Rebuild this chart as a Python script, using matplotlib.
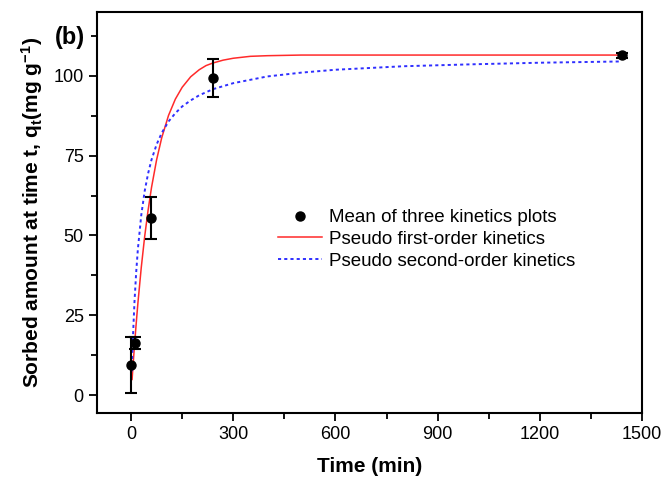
import matplotlib
matplotlib.use("Agg")
import matplotlib.pyplot as plt
from matplotlib.ticker import MultipleLocator
from matplotlib.lines import Line2D

t_mean = [0, 12, 60, 240, 1440]
q_mean = [9.5, 16.3, 55.5, 99.4, 106.5]
q_err = [8.7, 1.8, 6.5, 6.0, 0.8]

# Courbes d'ajustement
t_pfo = [3, 5, 10, 15, 20, 30, 40, 50, 60, 75, 90, 110, 130, 150, 175, 200,
         220, 240, 270, 300, 350, 400, 500, 600, 900, 1200, 1440]
q_pfo = [4.9, 8.0, 15.5, 22.3, 28.7, 40.0, 49.7, 57.9, 65.0, 73.7, 80.6, 87.6,
         92.7, 96.4, 99.7, 101.9, 103.2, 104.0, 104.9, 105.5, 106.1, 106.3,
         106.5, 106.5, 106.5, 106.5, 106.5]

t_pso = [2, 5, 10, 15, 20, 30, 40, 50, 60, 75, 90, 110, 130, 150, 175, 200,
         240, 300, 400, 500, 600, 800, 1000, 1200, 1440]
q_pso = [7.4, 16.8, 29.1, 38.4, 45.7, 56.4, 63.9, 69.4, 73.7, 78.5, 82.1, 85.7,
         88.3, 90.4, 92.3, 93.9, 95.8, 97.7, 99.8, 101.0, 101.9, 103.0, 103.6,
         104.1, 104.5]

plt.rcParams['font.family'] = ['Liberation Sans', 'DejaVu Sans']
plt.rcParams['mathtext.fontset'] = 'custom'
plt.rcParams['mathtext.rm'] = 'Liberation Sans'
plt.rcParams['mathtext.bf'] = 'Liberation Sans:bold'
plt.rcParams['mathtext.it'] = 'Liberation Sans:italic'

fig = plt.figure(figsize=(6.62, 4.78), dpi=100)
ax = fig.add_axes([0.1465, 0.136, 0.8235, 0.839])

red, = ax.plot(t_pfo, q_pfo, color='#ff2a2a', lw=1.1, zorder=2)
blue, = ax.plot(t_pso, q_pso, color='#2f2fff', lw=1.4, ls=(0, (1.6, 1.6)), zorder=2)
ax.errorbar(t_mean, q_mean, yerr=q_err, fmt='o', color='black', ms=6.5,
            elinewidth=1.5, capsize=4, capthick=1.5, zorder=3)

ax.set_xlim(-100, 1500)
ax.set_ylim(-5.6, 120)
ax.xaxis.set_major_locator(MultipleLocator(300))
ax.xaxis.set_minor_locator(MultipleLocator(150))
ax.yaxis.set_major_locator(MultipleLocator(25))
ax.yaxis.set_minor_locator(MultipleLocator(12.5))
ax.tick_params(which='both', direction='out', width=1.3, labelsize=13, top=False, right=False)
ax.tick_params(which='major', length=6)
ax.tick_params(which='minor', length=4)
for s in ax.spines.values():
    s.set_linewidth(1.5)

ax.set_xlabel('Time (min)', fontsize=15, fontweight='bold', labelpad=10)
ax.set_ylabel(r'Sorbed amount at time t, q$_{\mathbf{t}}$(mg g$^{\mathbf{-1}}$)',
              fontsize=15, fontweight='bold', labelpad=6)

dot = Line2D([], [], color='black', marker='o', ms=6.5, ls='none')
fig.legend([dot, red, blue],
           ['Mean of three kinetics plots', 'Pseudo first-order kinetics',
            'Pseudo second-order kinetics'],
           loc='upper left', bbox_to_anchor=(278 / 662, 1 - 209 / 478),
           frameon=False, fontsize=13.5, handlelength=2.35, handletextpad=0.35,
           labelspacing=0.25, borderpad=0, borderaxespad=0)

fig.text(55 / 662, 1 - 37.5 / 478, '(b)', fontsize=17, fontweight='bold', va='center')

plt.savefig('out.png', dpi=100)
